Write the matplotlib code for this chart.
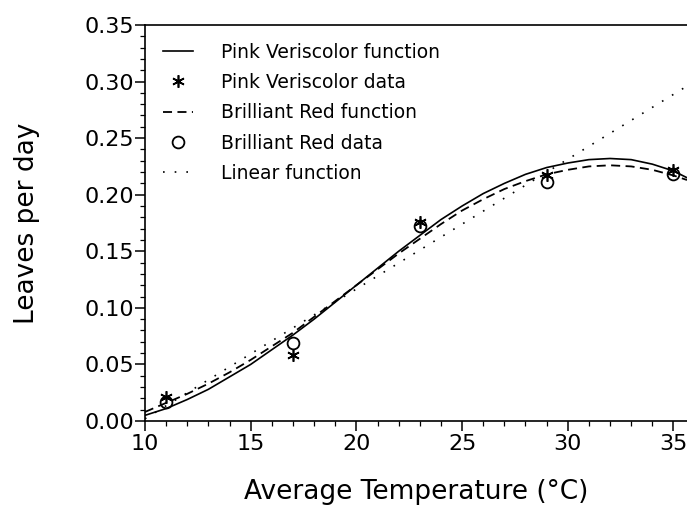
import numpy as np
import matplotlib
matplotlib.use("Agg")
import matplotlib.pyplot as plt
from matplotlib.ticker import MultipleLocator, FormatStrFormatter

# measured data points
temp_obs = [11, 17, 23, 29, 35]
pink_obs = [0.021, 0.058, 0.176, 0.217, 0.222]
red_obs = [0.017, 0.069, 0.172, 0.211, 0.218]

# fitted curves
temp_fit = [10, 11, 12, 13, 14, 15, 16, 17, 18, 19, 20, 21, 22, 23, 24, 25,
            26, 27, 28, 29, 30, 31, 32, 33, 34, 35, 35.64]
pink_fit = [0.005, 0.011, 0.019, 0.028, 0.039, 0.050, 0.063, 0.076, 0.090,
            0.105, 0.120, 0.135, 0.150, 0.164, 0.178, 0.190, 0.201, 0.210,
            0.218, 0.224, 0.228, 0.231, 0.232, 0.231, 0.227, 0.221, 0.215]
red_fit = [0.008, 0.016, 0.024, 0.033, 0.043, 0.054, 0.066, 0.078, 0.092,
           0.106, 0.120, 0.134, 0.148, 0.161, 0.174, 0.186, 0.196, 0.205,
           0.212, 0.218, 0.222, 0.225, 0.226, 0.225, 0.222, 0.217, 0.213]
temp_lin = [10, 35.64]
lin_fit = [0.002, 0.296]

plt.rcParams['font.family'] = ['DejaVu Sans']

fig = plt.figure(figsize=(6.87, 5.15), dpi=100)
ax = fig.add_axes([0.211, 0.1825, 0.789, 0.769])

ax.plot(temp_fit, pink_fit, color='black', lw=1.2, label='Pink Veriscolor function')
ax.plot(temp_obs, pink_obs, ls='none', marker=(6, 2, 0), ms=9, mew=1.2,
        color='black', label='Pink Veriscolor data')
ax.plot(temp_fit, red_fit, color='black', lw=1.3, dashes=(5, 3),
        label='Brilliant Red function')
ax.plot(temp_obs, red_obs, ls='none', marker='o', ms=8.5, mew=1.3,
        mfc='none', mec='black', label='Brilliant Red data')
ax.plot(temp_lin, lin_fit, color='black', lw=1.2, ls=(0, (1, 6)),
        label='Linear function')

ax.set_xlim(10, 35.64)
ax.set_ylim(0, 0.35)
ax.xaxis.set_major_locator(MultipleLocator(5))
ax.xaxis.set_minor_locator(MultipleLocator(1))
ax.yaxis.set_major_locator(MultipleLocator(0.05))
ax.yaxis.set_minor_locator(MultipleLocator(0.01))
ax.yaxis.set_major_formatter(FormatStrFormatter('%.2f'))

ax.spines['right'].set_visible(False)
for s in ['left', 'bottom', 'top']:
    ax.spines[s].set_linewidth(1.2)
ax.tick_params(which='major', direction='out', length=7, width=1.1,
               labelsize=16, pad=2)
ax.tick_params(which='minor', direction='out', length=3.5, width=0.9)
ax.tick_params(axis='x', which='both', top=False)
ax.tick_params(axis='y', which='major', pad=1)

ax.set_xlabel('Average Temperature (°C)', fontsize=19, labelpad=18)
ax.set_ylabel('Leaves per day', fontsize=19, labelpad=32)

leg = ax.legend(loc='upper left', frameon=False, fontsize=13.5,
                handlelength=1.6, handletextpad=1.5, labelspacing=0.6,
                borderaxespad=0.55)

fig.savefig('out.png', dpi=100)
